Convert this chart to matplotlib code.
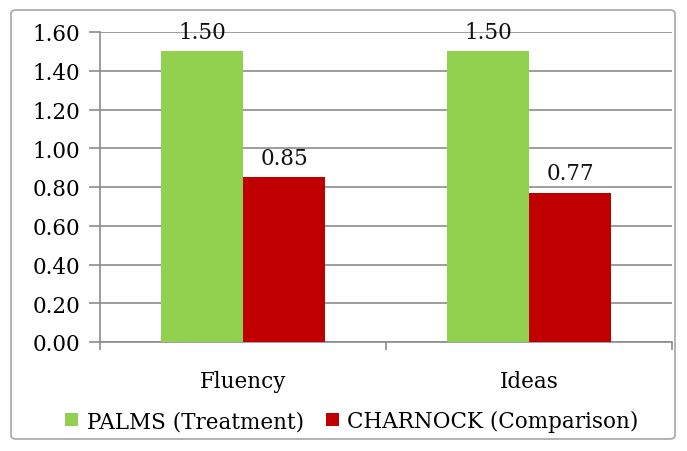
import numpy as np
import matplotlib.pyplot as plt
from matplotlib.patches import FancyBboxPatch

categories = ['Fluency', 'Ideas']
palms = [1.50, 1.50]
charnock = [0.85, 0.77]
yticks = [0.0, 0.2, 0.4, 0.6, 0.8, 1.0, 1.2, 1.4, 1.6]

plt.rcParams['font.family'] = ['DejaVu Serif']
FS = 15.5

fig = plt.figure(figsize=(6.87, 4.52), dpi=100)
ax = fig.add_axes([100 / 687, 1 - 343 / 452, 572 / 687, 310 / 452])

# outer rounded frame
frame = FancyBboxPatch((11 / 687, 12 / 452), 664 / 687, 429 / 452,
                       boxstyle='round,pad=0,rounding_size=0.008',
                       transform=fig.transFigure, fill=False,
                       edgecolor='#a6a6a6', linewidth=1.2)
fig.patches.append(frame)

x = np.arange(len(categories))
w = 0.287
b1 = ax.bar(x - w / 2, palms, w, color='#92d050', label='PALMS (Treatment)', zorder=3)
b2 = ax.bar(x + w / 2, charnock, w, color='#c00000', label='CHARNOCK (Comparison)', zorder=3)

for bars, vals in [(b1, palms), (b2, charnock)]:
    for r, v in zip(bars, vals):
        ax.text(r.get_x() + r.get_width() / 2, v + 0.045, f'{v:.2f}',
                ha='center', va='bottom', fontsize=FS, color='#111111', zorder=4)

ax.set_xlim(-0.5, 1.5)
ax.set_ylim(0, 1.6)
ax.set_yticks(yticks)
ax.set_yticklabels([f'{t:.2f}' for t in yticks], fontsize=FS)
ax.yaxis.grid(True, color='#8c8c8c', linewidth=1.2, zorder=0)
ax.tick_params(axis='y', length=8, color='#8c8c8c', width=1.2, pad=6)

ax.set_xticks([-0.5, 0.5, 1.5])
ax.set_xticklabels([])
ax.tick_params(axis='x', length=6, color='#8c8c8c', width=1.2)
for i, c in enumerate(categories):
    ax.text(i, -0.2, c, ha='center', va='center', fontsize=FS,
            transform=ax.transData)

for s in ['top', 'right']:
    ax.spines[s].set_visible(False)
for s in ['left', 'bottom']:
    ax.spines[s].set_color('#8c8c8c')
    ax.spines[s].set_linewidth(1.2)

fig.legend(handles=[b1, b2], loc='center', bbox_to_anchor=(352 / 687, 1 - 422 / 452),
           ncol=2, frameon=False, fontsize=FS, handlelength=0.6, handleheight=0.6,
           handletextpad=0.4, columnspacing=1.0)

fig.savefig('out.png', dpi=100)
